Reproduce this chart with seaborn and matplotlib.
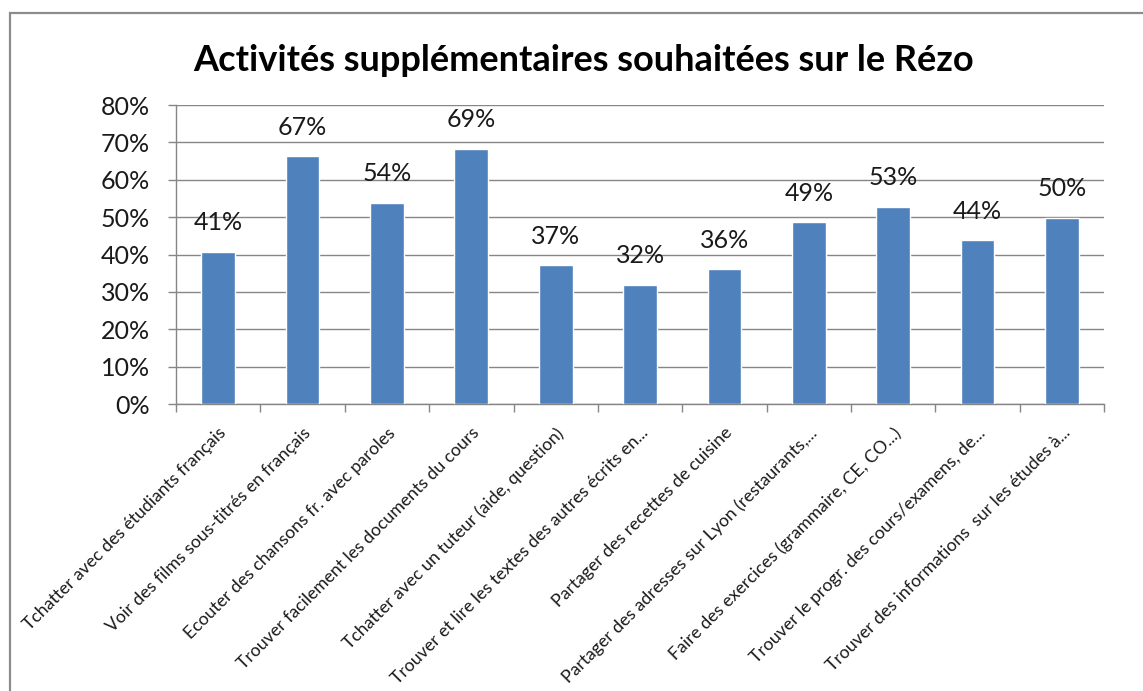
import matplotlib
matplotlib.use("Agg")
import matplotlib.pyplot as plt
import seaborn as sns
import pandas as pd
from matplotlib.patches import Rectangle
from matplotlib.ticker import PercentFormatter, FixedLocator

# --- data ---
categories = [
    "Tchatter avec des étudiants français",
    "Voir des films sous-titrés en français",
    "Ecouter des chansons fr. avec paroles",
    "Trouver facilement les documents du cours",
    "Tchatter avec un tuteur (aide, question)",
    "Trouver et lire les textes des autres écrits en...",
    "Partager des recettes de cuisine",
    "Partager des adresses sur Lyon (restaurants,...",
    "Faire des exercices (grammaire, CE, CO...)",
    "Trouver le progr. des cours/examens, de...",
    "Trouver des informations  sur les études à...",
]
values = [40.8, 66.3, 53.8, 68.3, 37.1, 31.9, 36.0, 48.6, 52.7, 43.8, 49.8]
value_labels = ["41%", "67%", "54%", "69%", "37%", "32%", "36%", "49%", "53%", "44%", "50%"]

title = "Activités supplémentaires souhaitées sur le Rézo"

sns.set_style("white")
plt.rcParams["font.family"] = ["Lato", "DejaVu Sans"]

grey = "#868686"
bar_col = "#4F81BD"

df = pd.DataFrame({"activite": categories, "pct": values})

fig = plt.figure(figsize=(11.43, 6.91), dpi=100)
ax = fig.add_axes([0.154, 0.4153, 0.812, 0.4327])

sns.barplot(data=df, x="activite", y="pct", color=bar_col, width=0.4,
            saturation=1, ax=ax, zorder=3)

# data labels sit well above the bars, as in the original export
for i, (v, lab) in enumerate(zip(values, value_labels)):
    ax.annotate(lab, (i, v), xytext=(0, 21), textcoords="offset points",
                ha="center", va="center", fontsize=18, color="#1a1a1a")

ax.set_ylim(0, 80)
ax.set_xlim(-0.5, len(categories) - 0.5)
ax.set_yticks(range(0, 81, 10))
ax.yaxis.set_major_formatter(PercentFormatter(decimals=0))
ax.grid(axis="y", color=grey, linewidth=1, zorder=0)
ax.grid(axis="x", visible=False)

for s in ["top", "right"]:
    ax.spines[s].set_visible(False)
for s in ["left", "bottom"]:
    ax.spines[s].set_color(grey)
    ax.spines[s].set_linewidth(1)

ax.tick_params(axis="y", left=True, length=6, width=1, color=grey,
               pad=13, labelsize=18, labelcolor="#1a1a1a")
# category labels, tick marks go between the categories
ax.tick_params(axis="x", bottom=False, length=0, pad=15, labelsize=12.7,
               labelcolor="#1a1a1a")
ax.xaxis.set_minor_locator(FixedLocator([k - 0.5 for k in range(len(categories) + 1)]))
ax.tick_params(axis="x", which="minor", bottom=True, length=6, width=1, color=grey)
for t in ax.get_xticklabels():
    t.set_rotation(45)
    t.set_ha("right")
    t.set_rotation_mode("anchor")

ax.set_xlabel("")
ax.set_ylabel("")

fig.text(0.5103, 0.912, title, ha="center", va="center", fontsize=26,
         fontweight="bold", color="black")

# chart frame (the right and bottom edges fall outside the picture)
top = 1 - 13 / 691
fig.patches.append(Rectangle((10 / 1143, -0.2), 1.2, top + 0.2,
                             transform=fig.transFigure, fill=False,
                             edgecolor="#8c8c8c", linewidth=1.6))

fig.savefig("out.png", dpi=100)
